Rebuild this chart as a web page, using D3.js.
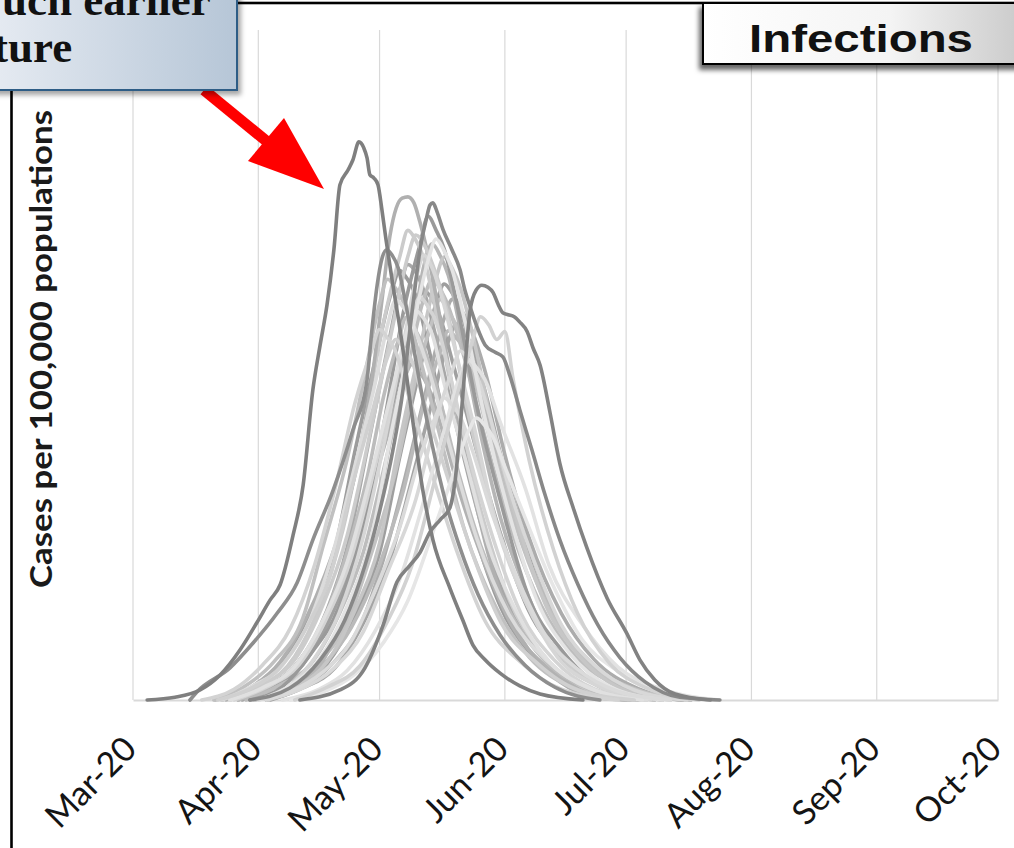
<!DOCTYPE html>
<html><head><meta charset="utf-8">
<script src="https://cdn.jsdelivr.net/npm/d3@7"></script>
<style>html,body{margin:0;padding:0;background:#fff;overflow:hidden}</style>
</head><body>
<svg id="chart" width="1014" height="848"></svg>
<script>
// ---------- DATA ----------
const monthTicks = ["2020-03-01","2020-04-01","2020-05-01","2020-06-01","2020-07-01","2020-08-01","2020-09-01","2020-10-01"];
const tickLabels = ["Mar-20","Apr-20","May-20","Jun-20","Jul-20","Aug-20","Sep-20","Oct-20"];
const yTitle = "Cases per 100,000 populations";
const panelTitle = "Infections";
const calloutLines = ["uch earlier","ture"];

// each series: [days since 2020-03-01, cases index]
const casesA = [[3.5,0],[10.4,0.4],[16.6,1.5],[21.5,3.7],[26.5,7.5],[30.7,11.6],[33.9,14.9],[36.4,17.2],[39.6,24.6],[42.1,32.1],[44.5,46.3],[46.3,53.0],[48.0,59.0],[49.7,67.2],[51.2,76.9],[53.2,79.1],[54.4,80.6],[55.9,83.3],[57.1,82.4],[57.9,80.9],[58.6,78.4],[59.6,77.9],[60.6,76.9],[61.6,73.1],[62.6,68.7],[64.1,62.7],[66.1,55.2],[68.5,44.8],[71.7,31.3],[74.2,23.9],[78.4,16.7],[81.6,11.9],[84.1,8.2],[87.1,6.0],[90.8,4.0],[95.7,2.1],[100.7,0.9],[111.3,0]];
const casesF = [[14.1,0],[15.8,1.2],[24.0,4.8],[29.7,8.5],[35.6,12.9],[40.6,17.5],[44.5,23.9],[49.5,31.3],[54.4,40.3],[57.9,47.8],[59.1,55.2],[60.4,61.9],[61.6,65.9],[62.8,67.2],[64.1,66.4],[65.6,64.5],[67.3,59.7],[69.3,53.0],[71.5,45.5],[74.0,38.1],[77.2,29.9],[80.9,22.7],[85.4,15.7],[90.8,9.7],[97.0,5.2],[104.4,1.9],[115.5,0]];
const casesB = [[20.3,0],[28.9,1.8],[36.4,5.7],[42.6,11.9],[47.5,18.7],[52.4,27.6],[56.2,37.3],[59.1,47.8],[61.6,59.7],[63.6,69.4],[65.1,73.4],[66.6,74.9],[68.0,75.1],[69.5,74.2],[71.0,71.3],[72.7,67.2],[74.7,61.2],[76.7,54.5],[78.9,47.0],[81.4,38.8],[84.6,29.9],[88.3,20.9],[92.8,13.1],[98.2,7.2],[105.6,2.7],[115.5,0.3],[123.0,0]];
const casesC = [[28.9,0],[38.8,1.8],[46.3,6.0],[52.4,11.9],[57.4,20.1],[61.1,28.4],[64.3,37.3],[66.8,46.3],[68.5,55.2],[70.0,62.7],[71.2,67.9],[72.5,71.6],[73.5,73.9],[74.2,74.2],[75.2,72.9],[76.7,70.2],[78.9,67.2],[80.9,64.2],[82.1,61.2],[83.4,58.7],[85.1,55.7],[87.1,53.0],[89.6,51.9],[91.5,51.2],[93.3,48.3],[95.7,43.3],[98.7,37.3],[101.9,30.7],[105.6,23.9],[110.1,17.2],[115.0,11.2],[120.5,6.3],[126.7,2.7],[135.3,0.4],[145.2,0]];
const casesI = [[41.3,0],[51.2,1.5],[57.4,4.8],[61.9,11.2],[65.3,17.6],[68.5,20.1],[71.0,22.0],[73.5,25.1],[76.0,26.9],[78.4,28.7],[79.7,32.8],[80.9,40.3],[82.1,49.3],[83.4,58.2],[84.9,61.2],[86.3,61.9],[87.8,61.6],[89.1,60.8],[90.3,59.1],[91.5,57.8],[92.8,57.5],[94.3,57.2],[95.7,56.4],[97.5,55.0],[99.0,52.5],[100.7,50.0],[103.2,42.8],[105.6,35.3],[108.9,28.7],[112.3,22.7],[117.3,15.2],[122.2,9.9],[125.4,6.0],[129.1,3.0],[134.1,0.9],[142.8,0]];
const casesD = [[29,0],[37,2.0],[44,6.9],[51,14.0],[57,26.5],[62,41.0],[67,58.2],[71,68.0],[73,72.2],[75,70.1],[77,67.3],[80,59.5],[85,44.0],[91,29.5],[98,15.2],[106,7.5],[116,2.0],[129,0]];
const casesE = [[24,0],[32,2.3],[40,6.0],[47,14.2],[53,24.6],[59,40.8],[64,55.0],[68,66.2],[70,69.4],[72,68.0],[74,65.2],[78,57.3],[83,42.5],[89,28.3],[97,14.8],[105,7.2],[116,1.9],[129,0]];
const casesG = [[31,0],[38,1.8],[45,6.3],[51,13.0],[57,24.4],[62,38.0],[67,53.6],[70,62.8],[72,66.4],[74,64.5],[76,61.0],[79,54.0],[84,41.8],[90,26.0],[97,14.9],[105,6.4],[115,2.1],[128,0]];
const casesH = [[28,0],[36,2.1],[44,5.4],[51,12.8],[57,22.1],[63,36.9],[68,49.8],[72,60.0],[74,62.7],[77,60.2],[82,51.0],[87,39.4],[94,24.7],[101,14.1],[110,6.1],[121,2.0],[135,0]];
const casesJ = [[40,0],[48,1.9],[56,5.0],[63,11.8],[69,20.1],[75,33.6],[80,45.2],[84,53.6],[86,57.2],[88,56.0],[90,53.8],[92,55.0],[94,48.0],[98,35.8],[104,22.5],[110,12.9],[118,5.4],[127,1.8],[140,0]];
const casesK = [[27,0],[34,2.2],[41,5.7],[48,13.4],[53,22.8],[58,37.5],[63,52.6],[66,61.2],[68,65.0],[70,63.8],[72,61.0],[75,54.0],[80,40.8],[86,26.5],[93,14.0],[101,6.7],[111,1.9],[124,0]];
const casesL = [[22,0],[29,1.9],[37,5.2],[44,12.3],[49,21.0],[55,35.2],[60,47.5],[63,56.0],[65,59.7],[67,58.5],[69,56.4],[73,49.6],[79,36.5],[85,24.2],[93,12.8],[102,6.1],[113,1.7],[127,0]];
const casesM = [[30,0],[38,1.7],[46,5.6],[53,11.6],[59,21.9],[65,34.2],[70,48.1],[74,56.5],[76,59.8],[78,58.0],[80,55.9],[84,48.5],[89,37.4],[96,23.6],[103,13.4],[112,5.8],[123,1.9],[138,0]];
const casesN = [[24,0],[32,1.8],[40,5.0],[47,11.9],[53,20.6],[59,34.0],[64,46.0],[68,55.4],[70,58.1],[72,56.9],[74,54.6],[77,47.2],[82,36.4],[88,22.9],[95,13.0],[103,5.7],[113,1.8],[126,0]];
const casesO = [[30,0],[39,1.6],[47,5.2],[54,10.8],[61,20.2],[67,31.5],[72,44.3],[76,52.0],[78,55.1],[80,54.0],[82,52.4],[86,45.5],[91,33.8],[97,22.3],[105,11.9],[113,5.6],[124,1.6],[137,0]];
const casesP = [[21,0],[29,1.7],[36,4.6],[43,10.9],[49,19.0],[54,31.4],[59,42.6],[63,51.2],[65,53.8],[67,52.5],[69,50.6],[72,44.5],[78,32.9],[84,21.8],[91,11.6],[100,5.5],[110,1.5],[124,0]];
const casesQ = [[33,0],[41,1.5],[50,4.9],[57,10.2],[63,19.1],[70,30.0],[75,41.9],[79,49.2],[81,52.1],[83,50.7],[85,48.6],[88,42.9],[93,31.8],[99,21.1],[106,11.2],[114,5.3],[124,1.5],[137,0]];
const casesR = [[26,0],[34,2.0],[42,5.3],[49,12.5],[55,21.6],[61,35.9],[66,48.5],[70,58.3],[72,61.1],[74,59.8],[76,57.1],[79,50.6],[85,37.2],[91,24.7],[98,13.2],[107,6.2],[117,1.8],[131,0]];
const casesS = [[33,0],[41,2.1],[48,5.7],[55,13.5],[61,23.4],[66,38.7],[71,52.5],[75,63.0],[77,66.1],[79,64.4],[81,61.5],[84,54.6],[89,40.5],[95,26.8],[102,14.3],[110,6.8],[120,1.9],[133,0]];
const casesT = [[20,0],[27,1.8],[35,5.8],[42,12.2],[47,22.9],[53,36.0],[58,50.5],[61,59.2],[63,62.8],[65,61.4],[67,59.3],[71,51.0],[76,39.3],[82,25.4],[90,13.6],[98,6.4],[109,1.8],[122,0]];
const casesU = [[37,0],[46,1.6],[53,4.4],[60,10.4],[66,18.0],[72,29.8],[77,40.3],[81,48.5],[83,50.8],[85,49.6],[87,47.9],[91,41.2],[97,31.7],[103,20.0],[111,11.4],[120,4.9],[131,1.6],[145,0]];
const casesV = [[31,0],[39,2.2],[46,6.0],[53,14.0],[59,24.3],[64,40.2],[69,54.7],[73,65.6],[75,68.8],[77,67.0],[79,64.1],[82,56.8],[87,42.2],[93,27.9],[100,14.8],[108,7.0],[118,2.0],[131,0]];
const casesW = [[24,0],[32,2.0],[40,6.5],[46,13.7],[52,25.6],[57,40.1],[62,56.4],[66,66.2],[68,70.1],[70,68.6],[72,65.8],[75,57.9],[80,43.0],[86,28.4],[93,15.1],[101,7.1],[111,2.0],[124,0]];
const casesX = [[33,0],[42,1.9],[49,5.2],[57,12.2],[62,21.1],[68,34.9],[73,47.5],[77,57.0],[79,59.8],[81,58.4],[83,56.3],[87,49.3],[92,36.6],[98,24.2],[106,12.9],[114,6.1],[125,1.7],[138,0]];
const casesY = [[17,0],[25,1.6],[32,5.2],[39,10.8],[45,20.3],[50,31.6],[55,44.5],[59,52.1],[61,55.3],[63,54.0],[65,52.0],[68,45.8],[74,33.7],[80,22.4],[87,11.9],[96,5.6],[106,1.6],[120,0]];
const casesZ1 = [[31,0],[39,1.3],[47,4.2],[54,8.8],[60,16.5],[66,25.8],[71,36.3],[75,42.5],[77,45.1],[79,44.0],[81,42.2],[84,37.2],[89,27.5],[95,18.3],[102,9.7],[110,4.6],[120,1.3],[133,0]];
const casesZ2 = [[23,0],[31,1.6],[39,4.4],[46,10.3],[52,17.7],[58,29.4],[63,39.6],[67,47.8],[69,50.1],[71,48.9],[73,46.8],[76,41.3],[81,30.6],[87,20.3],[94,10.8],[102,5.1],[112,1.4],[125,0]];
const casesZ3 = [[39,0],[47,1.2],[55,3.9],[62,8.6],[68,14.8],[74,24.7],[79,33.3],[83,40.1],[85,42.1],[87,41.0],[89,39.3],[92,34.8],[98,25.7],[104,17.0],[111,9.1],[120,4.3],[130,1.2],[144,0]];
const casesAA = [[22,0],[30,2.0],[37,5.6],[44,13.1],[50,22.7],[55,37.4],[60,50.9],[64,61.0],[66,64.1],[68,62.7],[70,60.3],[73,52.9],[78,39.3],[84,25.9],[91,13.8],[99,6.5],[109,1.8],[122,0]];
const casesAB = [[33,0],[40,2.1],[47,5.9],[53,13.8],[59,24.1],[64,39.8],[69,54.1],[72,64.9],[74,68.1],[76,66.3],[78,63.4],[81,55.2],[85,42.6],[91,27.0],[98,15.2],[105,6.7],[115,2.1],[127,0]];
const casesAC = [[34,0],[42,1.8],[50,4.8],[57,11.5],[63,19.8],[69,32.9],[74,44.5],[78,53.5],[80,56.1],[82,54.8],[84,52.6],[87,46.3],[92,34.2],[98,22.8],[105,12.1],[113,5.7],[123,1.6],[136,0]];
const casesAD = [[25,0],[33,1.9],[41,5.2],[48,12.3],[54,21.2],[60,35.1],[65,47.7],[69,57.3],[71,60.1],[73,58.7],[75,56.4],[78,49.6],[83,36.8],[89,24.3],[96,12.9],[104,6.1],[114,1.7],[127,0]];
const casesAE = [[26,0],[33,1.8],[40,5.0],[47,11.7],[52,20.1],[58,33.4],[62,45.3],[66,54.4],[67.5,57.1],[69,56.0],[71,53.9],[75,46.9],[80,35.1],[86,23.1],[94,12.3],[102,5.8],[113,1.6],[126,0]];
const casesAF = [[33,0],[41,2.0],[48,5.4],[55,12.7],[61,22.0],[66,36.3],[71,49.4],[75,59.2],[77,62.1],[79,60.7],[81,58.3],[84,51.2],[90,38.0],[96,25.0],[103,13.4],[112,6.4],[122,1.8],[136,0]];

const seriesList = [casesR,casesAA,casesK,casesAF,casesZ2,casesX,casesAC,casesO,casesH,casesM,casesAB,casesS,casesD,casesW,casesAE,casesB,casesT,casesE,casesG,casesAD,casesL,casesN,casesP,casesY,casesQ,casesU,casesV,casesZ1,casesZ3,casesJ,casesF,casesC,casesI,casesA];
const seriesColors = ["#a0a0a0","#9c9c9c","#a8a8a8","#9e9e9e","#b2b2b2","#acacac","#a4a4a4","#bababa","#bdbdbd","#c2c2c2","#b6b6b6","#c6c6c6","#9a9a9a","#cbcbcb","#bcbcbc","#b0b0b0","#c0c0c0","#cccccc","#d6d6d6","#d4d4d4","#dcdcdc","#e0e0e0","#d0d0d0","#d3d3d3","#d8d8d8","#e2e2e2","#e4e4e4","#dadada","#e6e6e6","#d2d2d2","#8e8e8e","#888888","#828282","#7f7f7f"];

// ---------- CHART ----------
const svg = d3.select("#chart");
const defs = svg.append("defs");
const t0 = Date.UTC(2020,2,1);
const toDate = d => new Date(t0 + d*86400000);

const x = d3.scaleUtc().domain([new Date(Date.UTC(2020,2,1)), new Date(Date.UTC(2020,9,1))]).range([133,998]);
const y = d3.scaleLinear().domain([0,100]).range([700,30]);

// gradients & shadows
const g1 = defs.append("linearGradient").attr("id","calloutGrad").attr("x1","0%").attr("x2","100%");
g1.append("stop").attr("offset","0%").attr("stop-color","#e6ebf2");
g1.append("stop").attr("offset","100%").attr("stop-color","#b6c6d7");
const g2 = defs.append("linearGradient").attr("id","titleGrad").attr("x1","0%").attr("x2","100%");
g2.append("stop").attr("offset","0%").attr("stop-color","#ffffff");
g2.append("stop").attr("offset","55%").attr("stop-color","#f4f4f4");
g2.append("stop").attr("offset","100%").attr("stop-color","#c4c4c4");
const f1 = defs.append("filter").attr("id","shadow1").attr("x","-20%").attr("y","-20%").attr("width","140%").attr("height","160%");
f1.append("feDropShadow").attr("dx",3).attr("dy",4).attr("stdDeviation",2.5).attr("flood-color","#000").attr("flood-opacity",0.35);
const f2 = defs.append("filter").attr("id","shadow2").attr("x","-20%").attr("y","-20%").attr("width","140%").attr("height","180%");
f2.append("feDropShadow").attr("dx",-3).attr("dy",5).attr("stdDeviation",2.5).attr("flood-color","#000").attr("flood-opacity",0.6);

// frame
svg.append("rect").attr("x",11.5).attr("y",3).attr("width",1100).attr("height",1000)
  .attr("fill","#fff").attr("stroke","#000").attr("stroke-width",2.6);

// gridlines
const tickDates = monthTicks.map(s => new Date(s + "T00:00:00Z"));
svg.append("g").selectAll("line").data(tickDates).join("line")
  .attr("x1", d => x(d)).attr("x2", d => x(d))
  .attr("y1", y(100)).attr("y2", y(0))
  .attr("stroke","#d9d9d9").attr("stroke-width",1.2);

// x axis
const xAxis = d3.axisBottom(x).tickValues(tickDates).tickFormat((d,i) => tickLabels[i]).tickSize(0).tickSizeOuter(0);
const ax = svg.append("g").attr("transform",`translate(0,${y(0)})`).call(xAxis);
ax.select(".domain").attr("stroke","#d9d9d9").attr("stroke-width",2.2);
ax.selectAll("text")
  .attr("x",0).attr("y",0).attr("dy",0)
  .attr("transform","translate(5,51) rotate(-45)")
  .attr("text-anchor","end")
  .attr("fill","#141414")
  .style("font-family","Lato, 'Open Sans', sans-serif")
  .style("font-size","34px");

// series
const line = d3.line().x(p => x(toDate(p[0]))).y(p => y(p[1])).curve(d3.curveMonotoneX);
svg.append("g").selectAll("path").data(seriesList).join("path")
  .attr("d", line)
  .attr("fill","none")
  .attr("stroke",(d,i) => seriesColors[i])
  .attr("stroke-width",3.6)
  .attr("stroke-linejoin","round")
  .attr("stroke-linecap","round");

// y title
svg.append("text")
  .attr("transform","translate(52,349) rotate(-90)")
  .attr("text-anchor","middle")
  .attr("textLength",478).attr("lengthAdjust","spacingAndGlyphs")
  .style("font-family","Lato, 'Open Sans', sans-serif").style("font-weight","bold").style("font-size","31px")
  .attr("fill","#1a1a1a")
  .text(yTitle);

// red arrow
svg.append("line").attr("x1",204).attr("y1",90).attr("x2",270).attr("y2",144)
  .attr("stroke","#ff0000").attr("stroke-width",11);
svg.append("polygon").attr("points","324,189 284,118 248,161").attr("fill","#ff0000");

// callout box
svg.append("rect").attr("x",-10).attr("y",-10).attr("width",247).attr("height",100)
  .attr("fill","url(#calloutGrad)").attr("stroke","#2d5d86").attr("stroke-width",2)
  .attr("filter","url(#shadow1)");
svg.append("text").attr("x",2).attr("y",15).attr("fill","#111")
  .style("font-family","'Liberation Serif', 'DejaVu Serif', serif").style("font-weight","bold").style("font-size","45px")
  .text(calloutLines[0]);
svg.append("text").attr("x",-7).attr("y",62).attr("fill","#111")
  .style("font-family","'Liberation Serif', 'DejaVu Serif', serif").style("font-weight","bold").style("font-size","45px")
  .text(calloutLines[1]);

// title box
svg.append("rect").attr("x",703).attr("y",3).attr("width",340).attr("height",61)
  .attr("fill","url(#titleGrad)").attr("stroke","#000").attr("stroke-width",2)
  .attr("filter","url(#shadow2)");
svg.append("text").attr("x",749).attr("y",52)
  .attr("textLength",224).attr("lengthAdjust","spacingAndGlyphs")
  .style("font-family","'Liberation Sans', Arial, sans-serif").style("font-weight","bold").style("font-size","38px")
  .attr("fill","#111")
  .text(panelTitle);
</script>
</body></html>
